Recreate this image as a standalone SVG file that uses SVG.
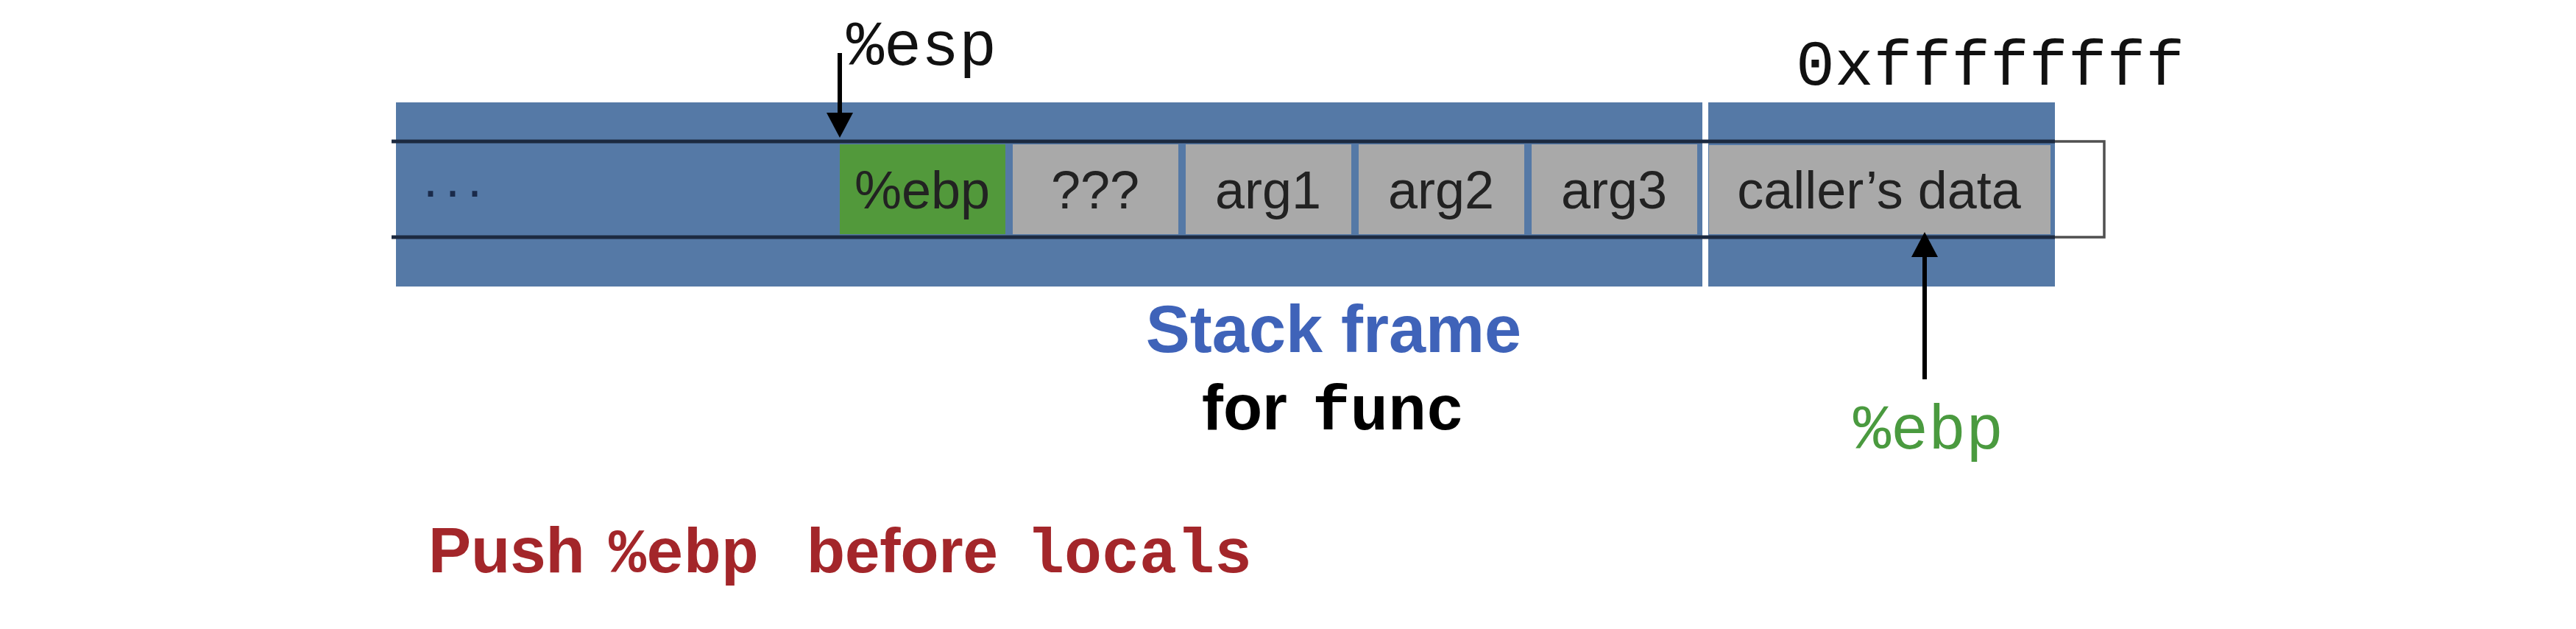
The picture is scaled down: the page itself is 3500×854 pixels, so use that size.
<svg xmlns="http://www.w3.org/2000/svg" width="3500" height="854" viewBox="0 0 3500 854">
  <style>
    .blue { fill: #5579a6; }
    .cell { fill: #a9a9a9; }
    .green { fill: #52993b; }
    .ct { font-family: "Liberation Sans", Arial, sans-serif; font-size: 72px; fill: #222; text-anchor: middle; }
    .mono { font-family: "Liberation Mono", "Courier New", monospace; }
    .bold { font-family: "Liberation Sans", Arial, sans-serif; font-weight: bold; }
    .arrow { stroke: #000; stroke-width: 6; fill: none; marker-end: url(#ah); }
  </style>
  <defs>
    <marker id="ah" viewBox="0 0 34 36" refX="14" refY="18" markerWidth="34" markerHeight="36" markerUnits="userSpaceOnUse" orient="auto">
      <path d="M0,0 L34,18 L0,36 Z" fill="#000"/>
    </marker>
  </defs>
  <rect width="3500" height="854" fill="#ffffff"/>

  <g id="frame-func">
    <rect class="blue" x="538" y="139" width="1775" height="250"/>
  </g>
  <g id="frame-caller">
    <rect class="blue" x="2321" y="139" width="471" height="250"/>
  </g>

  <g id="stack-outline">
    <path d="M532,192 H2792 M532,322 H2792" stroke="#1c2a40" stroke-width="5" fill="none"/>
    <path d="M2792,192 H2859 V322 H2792" stroke="#505050" stroke-width="3.5" fill="none"/>
  </g>

  <g id="dots">
    <text x="573" y="283" font-family="Liberation Sans, Arial, sans-serif" font-size="72" fill="#1a2a4a" letter-spacing="6">···</text>
  </g>

  <g id="cell-ebp">
    <rect class="green" x="1141" y="196" width="225" height="122"/>
    <text class="ct" x="1253" y="283" fill="#1a2a1a">%ebp</text>
  </g>
  <g id="cell-unknown">
    <rect class="cell" x="1376" y="196" width="225" height="122"/>
    <text class="ct" x="1488" y="283">???</text>
  </g>
  <g id="cell-arg1">
    <rect class="cell" x="1611" y="196" width="225" height="122"/>
    <text class="ct" x="1723" y="283">arg1</text>
  </g>
  <g id="cell-arg2">
    <rect class="cell" x="1846" y="196" width="225" height="122"/>
    <text class="ct" x="1958" y="283">arg2</text>
  </g>
  <g id="cell-arg3">
    <rect class="cell" x="2081" y="196" width="225" height="122"/>
    <text class="ct" x="2193" y="283">arg3</text>
  </g>
  <g id="cell-caller">
    <rect class="cell" x="2322" y="197" width="464" height="121"/>
    <text class="ct" x="2553" y="283">caller’s data</text>
  </g>

  <g id="connectors">
    <line class="arrow" x1="1141" y1="72" x2="1141" y2="167"/>
    <line class="arrow" x1="2615" y1="515" x2="2615" y2="335"/>
  </g>

  <g id="label-esp">
    <text class="mono" x="1150" y="88" font-size="85" fill="#111">%esp</text>
  </g>
  <g id="label-addr">
    <text class="mono" x="2440" y="115" font-size="88" fill="#111">0xffffffff</text>
  </g>
  <g id="label-ebp">
    <text class="mono" x="2518" y="609" font-size="85" fill="#4a9a3f">%ebp</text>
  </g>

  <g id="caption-frame">
    <text class="bold" x="1812" y="478" font-size="90" fill="#3f63b9" text-anchor="middle">Stack frame</text>
    <text x="1633" y="583" fill="#000"><tspan class="bold" font-size="87">for</tspan><tspan class="mono" font-weight="bold" font-size="86" x="1783">func</tspan></text>
  </g>

  <g id="caption-push">
    <text x="582" y="777" fill="#a3262a"><tspan class="bold" font-size="87">Push</tspan><tspan class="mono" font-weight="bold" font-size="85" x="827">%ebp</tspan><tspan class="bold" font-size="85" x="1096">before</tspan><tspan class="mono" font-weight="bold" font-size="85" x="1395">locals</tspan></text>
  </g>
</svg>
